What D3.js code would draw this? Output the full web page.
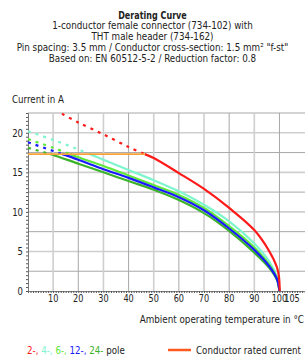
<!DOCTYPE html>
<html>
<head>
<script src="https://d3js.org/d3.v7.min.js"></script>
<style>
  body { margin: 0; background: #fff; }
  svg text { font-family: "DejaVu Sans", sans-serif; font-stretch: condensed; font-size: 10.5px; fill: #222; }
</style>
</head>
<body>
<div id="chart"></div>
<script>
// chart data
var titleLines = [
  "Derating Curve",
  "1-conductor female connector (734-102) with",
  "THT male header (734-162)",
  "Pin spacing: 3.5 mm / Conductor cross-section: 1.5 mm\u00b2 \"f-st\"",
  "Based on: EN 60512-5-2 / Reduction factor: 0.8"
];
var xTicks = [10, 20, 30, 40, 50, 60, 70, 80, 90, 100, 105];
var yTicks = [0, 5, 10, 15, 20];
var ratedCurrent = 17.3;

var temps = [0, 10, 20, 30, 40, 50, 60, 70, 80, 90, 96, 99, 100];
var pole4 = [20.2, 19.1, 17.9, 16.6, 15.3, 14.0, 12.6, 10.9, 8.8, 6.0, 3.7, 1.8, 0];
var pole6 = [19.2, 18.1, 16.9, 15.8, 14.6, 13.4, 12.15, 10.5, 8.2, 5.5, 3.3, 1.6, 0];
var pole12 = [18.8, 17.7, 16.6, 15.4, 14.3, 13.1, 11.85, 10.2, 7.9, 5.2, 3.1, 1.5, 0];
var pole24 = [18.1, 17.2, 16.1, 15.0, 13.9, 12.8, 11.5, 9.85, 7.6, 4.85, 2.9, 1.4, 0];

var tempsPole2 = [13.5, 20, 30, 40, 50, 60, 70, 80, 90, 96, 99, 99.8, 100.1];
var pole2 = [22.4, 21.3, 19.8, 18.2, 16.8, 14.9, 12.9, 10.5, 7.7, 5.0, 3.0, 1.8, 0];

var legendParts = [
  { text: "2-, ", color: "#ff1a1a" },
  { text: "4-, ", color: "#7ff5cf" },
  { text: "6-, ", color: "#5ee83a" },
  { text: "12-, ", color: "#1a1aff" },
  { text: "24-", color: "#3cb32a" },
  { text: " pole", color: "#222" }
];

var width = 305, height = 360;
var svg = d3.select('#chart').append('svg')
  .attr('width', width)
  .attr('height', height);

// squeeze text horizontally to look like the condensed font of the original
function squeeze(sel, f) {
  sel.each(function () {
    var w = this.getComputedTextLength();
    d3.select(this).attr('textLength', w * f).attr('lengthAdjust', 'spacingAndGlyphs');
  });
}

// title
var title = svg.selectAll('text.title').data(titleLines).enter().append('text')
  .attr('x', 152.5)
  .attr('y', function (d, i) { return 18.5 + i * 10.8; })
  .attr('text-anchor', 'middle')
  .style('font-weight', function (d, i) { return i == 0 ? 'bold' : 'normal'; })
  .text(function (d) { return d; });
squeeze(title.filter(function (d, i) { return i > 0; }), 0.93);
squeeze(title.filter(function (d, i) { return i == 0; }), 0.85);

// scales
var x = d3.scaleLinear().domain([0, 110]).range([28, 304.6]);
var y = d3.scaleLinear().domain([0, 22.5]).range([291, 113]);

// grid
var g = svg.append('g');
g.selectAll('line.hgrid').data(d3.range(2.5, 22.6, 2.5)).enter().append('line')
  .attr('x1', x(0)).attr('x2', width)
  .attr('y1', function (d) { return y(d); })
  .attr('y2', function (d) { return y(d); })
  .attr('stroke', function (d) { return d % 5 == 0 ? '#cfcfcf' : '#a8a8a8'; })
  .attr('stroke-width', function (d) { return d % 5 == 0 ? 1.6 : 1; });
g.selectAll('line.vgrid').data(d3.range(10, 101, 10)).enter().append('line')
  .attr('y1', y(0)).attr('y2', y(22.5))
  .attr('x1', function (d) { return x(d); })
  .attr('x2', function (d) { return x(d); })
  .attr('stroke', function (d) { return d % 20 == 10 ? '#cfcfcf' : '#a8a8a8'; })
  .attr('stroke-width', function (d) { return d % 20 == 10 ? 1.6 : 1; });

// axes
var xAxis = svg.append('g').attr('transform', 'translate(0,' + y(0) + ')')
  .call(d3.axisBottom(x).tickValues(d3.range(0, 110, 1)).tickSize(2).tickFormat(''));
xAxis.select('.domain').attr('stroke', '#888');
xAxis.selectAll('.tick line').attr('stroke', '#555');
var yAxis = svg.append('g').attr('transform', 'translate(' + x(0) + ',0)')
  .call(d3.axisLeft(y).tickValues(d3.range(0, 22.6, 0.5)).tickSize(2).tickFormat(''));
yAxis.select('.domain').attr('stroke', '#777');
yAxis.selectAll('.tick line').attr('stroke', '#555');

var xt = svg.selectAll('text.xt').data(xTicks).enter().append('text')
  .attr('x', function (d) { return x(d); })
  .attr('y', 301.5)
  .attr('text-anchor', 'middle')
  .text(function (d) { return d; });
squeeze(xt, 0.86);
var yt = svg.selectAll('text.yt').data(yTicks).enter().append('text')
  .attr('x', 23)
  .attr('y', function (d) { return y(d) + 3.8; })
  .attr('text-anchor', 'end')
  .text(function (d) { return d; });
squeeze(yt, 0.9);

squeeze(svg.append('text').attr('x', 12).attr('y', 102.5).text('Current in A'), 0.92);
squeeze(svg.append('text').attr('x', 304).attr('y', 322.5).attr('text-anchor', 'end')
  .text('Ambient operating temperature in \u00b0C'), 0.93);

// curves: dashed above rated current, solid below
var line = d3.line()
  .x(function (d) { return x(d[0]); })
  .y(function (d) { return y(d[1]); })
  .curve(d3.curveCatmullRom.alpha(0.5));

function crossing(ts, vs) {
  for (var i = 1; i < ts.length; i++) {
    if (vs[i - 1] >= ratedCurrent && vs[i] < ratedCurrent) {
      var f = (vs[i - 1] - ratedCurrent) / (vs[i - 1] - vs[i]);
      return ts[i - 1] + f * (ts[i] - ts[i - 1]);
    }
  }
  return ts[0];
}

function drawSeries(ts, vs, color, w) {
  var tc = crossing(ts, vs);
  var upper = [], lower = [[tc, ratedCurrent]];
  ts.forEach(function (t, i) {
    if (t < tc) upper.push([t, vs[i]]);
    else lower.push([t, vs[i]]);
  });
  upper.push([tc, ratedCurrent]);
  svg.append('path').attr('d', line(upper))
    .attr('fill', 'none').attr('stroke', color).attr('stroke-width', w)
    .attr('stroke-dasharray', '3,5');
  svg.append('path').attr('d', line(lower))
    .attr('fill', 'none').attr('stroke', color).attr('stroke-width', w);
  return tc;
}

drawSeries(temps, pole4, '#7ff5cf', 2.2);
drawSeries(temps, pole6, '#5ee83a', 2.2);
drawSeries(temps, pole24, '#3cb32a', 2.2);
drawSeries(temps, pole12, '#1a1aff', 2.2);
var redCross = drawSeries(tempsPole2, pole2, '#ff1a1a', 2.2);

// rated current line
svg.append('line')
  .attr('x1', x(0)).attr('x2', x(redCross))
  .attr('y1', y(ratedCurrent)).attr('y2', y(ratedCurrent))
  .attr('stroke', '#f7a33a').attr('stroke-width', 1.6);

// legend
var leg = svg.append('text').attr('x', 27).attr('y', 353.5);
legendParts.forEach(function (p) {
  leg.append('tspan').style('fill', p.color).text(p.text);
});
squeeze(leg, 0.92);
svg.append('line').attr('x1', 168).attr('x2', 191).attr('y1', 350).attr('y2', 350)
  .attr('stroke', '#ff5a1f').attr('stroke-width', 2.5);
squeeze(svg.append('text').attr('x', 196).attr('y', 353.5).text('Conductor rated current'), 0.92);
</script>
</body>
</html>
